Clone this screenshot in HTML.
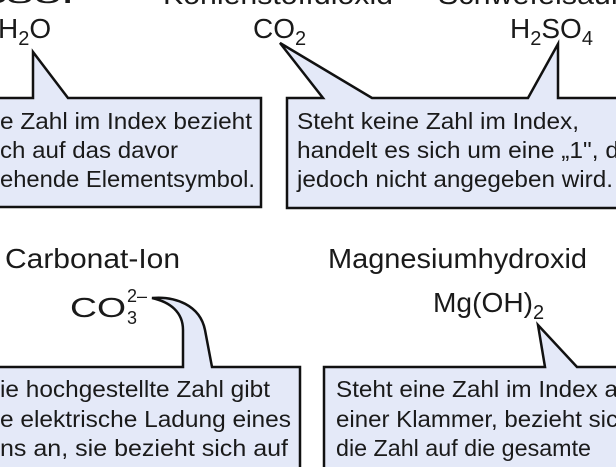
<!DOCTYPE html>
<html><head><meta charset="utf-8"><style>
html,body{margin:0;padding:0;background:#fff;width:616px;height:467px;overflow:hidden;}
svg{display:block;}
text{font-family:"Liberation Sans",Arial,sans-serif;fill:#1a1a1a;}
</style></head><body>
<svg width="616" height="467" viewBox="0 0 616 467" xmlns="http://www.w3.org/2000/svg">
<g fill="#e4e9f8" stroke="#111" stroke-width="2.5" stroke-linejoin="miter">
<path d="M-5,98 L33,98 L33,52 L68,98 L261,98 L261,207 L-5,207 Z"/>
<path d="M287,98 L323,98 L280,43 L372,98 L528,98 L558,44 L558,98 L625,98 L625,208 L287,208 Z"/>
<path d="M-5,367 L183,367 L183,330 C183,312 170,302 152,298 C175,296 200,305 205,330 L212,367 L300,367 L300,470 L-5,470 Z"/>
<path d="M324,367 L545,367 L538,325 L577,367 L625,367 L625,470 L324,470 Z"/>
</g>
<g font-size="28">
<text x="-95" y="3" textLength="174" lengthAdjust="spacingAndGlyphs">Wasser</text>
<text x="163" y="4" textLength="230" lengthAdjust="spacingAndGlyphs">Kohlenstoffdioxid</text>
<text x="438" y="4" textLength="200" lengthAdjust="spacingAndGlyphs">Schwefelsäure</text>
<text x="-2" y="38">H<tspan font-size="20" dy="7">2</tspan><tspan dy="-7">O</tspan></text>
<text x="253" y="38">CO<tspan font-size="20" dy="7">2</tspan></text>
<text x="510" y="38">H<tspan font-size="20" dy="7">2</tspan><tspan dy="-7">SO</tspan><tspan font-size="20" dy="7">4</tspan></text>
<text x="5" y="268" textLength="175" lengthAdjust="spacingAndGlyphs">Carbonat-Ion</text>
<text x="328" y="268" textLength="259" lengthAdjust="spacingAndGlyphs">Magnesiumhydroxid</text>
<text x="70" y="317" textLength="56" lengthAdjust="spacingAndGlyphs">CO</text>
<text x="127" y="302" font-size="18">2–</text>
<text x="127" y="324" font-size="18">3</text>
<text x="433" y="312" textLength="100" lengthAdjust="spacingAndGlyphs">Mg(OH)</text>
<text x="533" y="319" font-size="20">2</text>
</g>
<g font-size="23">
<text x="0" y="129" textLength="252" lengthAdjust="spacingAndGlyphs">e Zahl im Index bezieht</text>
<text x="0" y="158" textLength="178" lengthAdjust="spacingAndGlyphs">ch auf das davor</text>
<text x="0" y="187" textLength="255" lengthAdjust="spacingAndGlyphs">ehende Elementsymbol.</text>
<text x="297" y="129" textLength="282" lengthAdjust="spacingAndGlyphs">Steht keine Zahl im Index,</text>
<text x="297" y="158" textLength="322" lengthAdjust="spacingAndGlyphs">handelt es sich um eine „1", d</text>
<text x="297" y="187" textLength="316" lengthAdjust="spacingAndGlyphs">jedoch nicht angegeben wird.</text>
<text x="0" y="397" textLength="270" lengthAdjust="spacingAndGlyphs">ie hochgestellte Zahl gibt</text>
<text x="0" y="427" textLength="291" lengthAdjust="spacingAndGlyphs">e elektrische Ladung eines</text>
<text x="0" y="456" textLength="288" lengthAdjust="spacingAndGlyphs">ns an, sie bezieht sich auf</text>
<text x="336" y="397" textLength="282" lengthAdjust="spacingAndGlyphs">Steht eine Zahl im Index a</text>
<text x="336" y="427" textLength="282" lengthAdjust="spacingAndGlyphs">einer Klammer, bezieht sic</text>
<text x="336" y="456" textLength="255" lengthAdjust="spacingAndGlyphs">die Zahl auf die gesamte</text>
</g>
</svg>
</body></html>
